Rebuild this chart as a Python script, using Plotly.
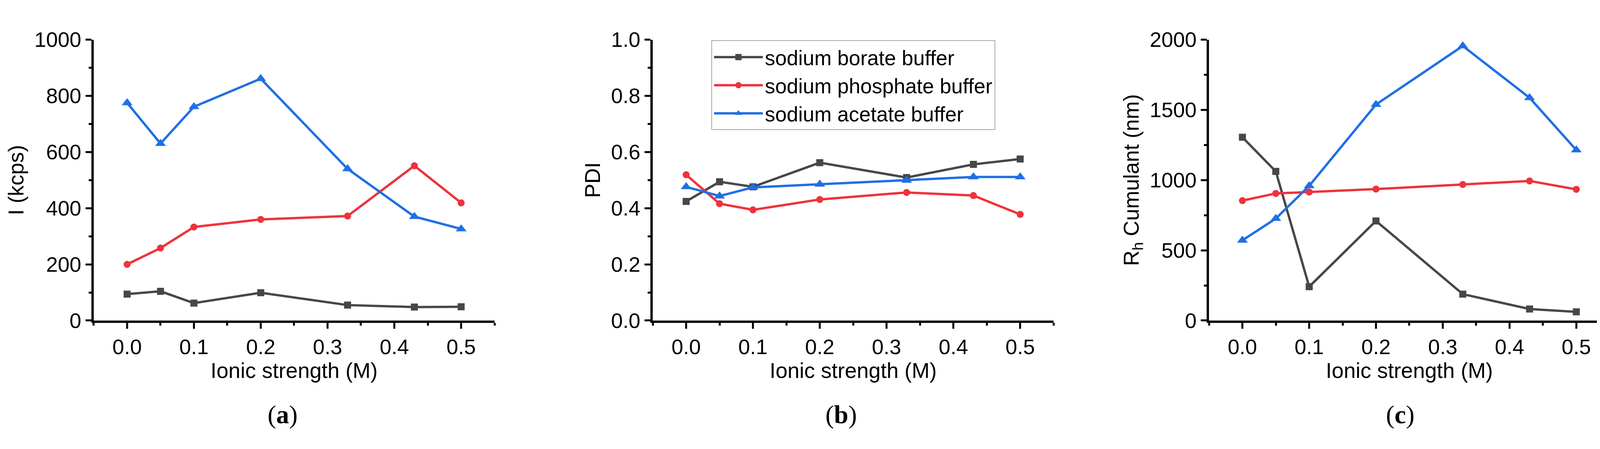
import plotly.graph_objects as go

"""
Ionic strength series for three buffers: count rate, PDI and Rh (cumulant).
"""

# Shared x values (M)
ionic_strength = [0.0, 0.05, 0.1, 0.2, 0.33, 0.43, 0.5]

buffer_names = [
    "sodium borate buffer",
    "sodium phosphate buffer",
    "sodium acetate buffer",
]

# (a) I (kcps)
intensity_borate = [94, 104, 62, 99, 55, 48, 49]
intensity_phosphate = [200, 258, 333, 360, 372, 551, 419]
intensity_acetate = [775, 630, 761, 861, 540, 370, 326]

# (b) PDI
pdi_borate = [0.424, 0.494, 0.476, 0.562, 0.509, 0.556, 0.575]
pdi_phosphate = [0.519, 0.416, 0.394, 0.431, 0.456, 0.445, 0.378]
pdi_acetate = [0.476, 0.443, 0.474, 0.485, 0.499, 0.511, 0.511]

# (c) Rh cumulant (nm)
rh_borate = [1305, 1062, 241, 709, 188, 82, 62]
rh_phosphate = [854, 905, 915, 936, 969, 994, 934]
rh_acetate = [571, 726, 959, 1538, 1955, 1586, 1214]

# Tick labels
x_tick_vals = [0.0, 0.1, 0.2, 0.3, 0.4, 0.5]
x_tick_text = ["0.0", "0.1", "0.2", "0.3", "0.4", "0.5"]
a_tick_vals = [0, 200, 400, 600, 800, 1000]
a_tick_text = ["0", "200", "400", "600", "800", "1000"]
b_tick_vals = [0.0, 0.2, 0.4, 0.6, 0.8, 1.0]
b_tick_text = ["0.0", "0.2", "0.4", "0.6", "0.8", "1.0"]
c_tick_vals = [0, 500, 1000, 1500, 2000]
c_tick_text = ["0", "500", "1000", "1500", "2000"]

panel_labels = ["a", "b", "c"]

# Styles
colors = ["#474747", "#ee333b", "#1f6fe4"]
symbols = ["square", "circle", "triangle-up"]
marker_sizes = [18, 18, 24]
FONT = "Liberation Sans, Arial, sans-serif"
SERIF = "Liberation Serif, Times New Roman, serif"

fig = go.Figure()

panels = [
    ("x", "y", [intensity_borate, intensity_phosphate, intensity_acetate]),
    ("x2", "y2", [pdi_borate, pdi_phosphate, pdi_acetate]),
    ("x3", "y3", [rh_borate, rh_phosphate, rh_acetate]),
]

for p_idx, (xa, ya, series) in enumerate(panels):
    for s_idx, values in enumerate(series):
        fig.add_trace(
            go.Scatter(
                x=ionic_strength,
                y=values,
                xaxis=xa,
                yaxis=ya,
                mode="lines+markers",
                name=buffer_names[s_idx],
                legendgroup=buffer_names[s_idx],
                showlegend=(p_idx == 1),
                line=dict(color=colors[s_idx], width=6),
                marker=dict(
                    symbol=symbols[s_idx],
                    size=marker_sizes[s_idx],
                    color=colors[s_idx],
                ),
                cliponaxis=False,
            )
        )

axis_common = dict(
    showline=True,
    linecolor="black",
    linewidth=6,
    ticks="outside",
    ticklen=15,
    tickwidth=5,
    tickcolor="black",
    showgrid=False,
    zeroline=False,
    tickfont=dict(family=FONT, size=54, color="black"),
    title_font=dict(family=FONT, size=55, color="black"),
)

x_domains = [[0.0560, 0.3038], [0.4016, 0.6494], [0.7455, 0.9932]]
y_domain = [0.2817, 0.9417]

y_specs = [
    (a_tick_vals, a_tick_text, [0, 1000], 100, "I (kcps)"),
    (b_tick_vals, b_tick_text, [0, 1.0], 0.1, "PDI"),
    (c_tick_vals, c_tick_text, [0, 2000], 250, "R<sub>h</sub> Cumulant (nm)"),
]

layout_axes = {}
for i in range(3):
    suffix = "" if i == 0 else str(i + 1)
    tv, tt, rng, minor_step, title = y_specs[i]
    layout_axes["xaxis" + suffix] = dict(
        axis_common,
        domain=x_domains[i],
        anchor="y" + suffix,
        range=[-0.05, 0.55],
        tickmode="array",
        tickvals=x_tick_vals,
        ticktext=x_tick_text,
        minor=dict(ticks="outside", ticklen=7, tickwidth=5, tickcolor="black",
                   tick0=0, dtick=0.05),
        title=dict(text="Ionic strength (M)", standoff=12),
    )
    layout_axes["yaxis" + suffix] = dict(
        axis_common,
        domain=y_domain,
        anchor="x" + suffix,
        range=rng,
        tickmode="array",
        tickvals=tv,
        ticktext=tt,
        minor=dict(ticks="outside", ticklen=7, tickwidth=5, tickcolor="black",
                   tick0=0, dtick=minor_step),
        title=dict(text=title, standoff=12),
    )

fig.update_layout(
    width=4141,
    height=1150,
    margin=dict(l=0, r=0, t=0, b=0),
    paper_bgcolor="white",
    plot_bgcolor="white",
    font=dict(family=FONT, color="black"),
    legend=dict(
        x=0.4378,
        y=0.94,
        xanchor="left",
        yanchor="top",
        bordercolor="#a8a8a8",
        borderwidth=2,
        bgcolor="white",
        font=dict(family=FONT, size=53, color="black"),
        itemwidth=125,
        tracegroupgap=0,
    ),
    **layout_axes,
)

# Panel labels (a), (b), (c)
label_x = [0.1727, 0.5182, 0.8636]
for lx, lab in zip(label_x, panel_labels):
    fig.add_annotation(
        xref="paper",
        yref="paper",
        x=lx,
        y=0.061,
        text=f"(<b>{lab}</b>)",
        showarrow=False,
        xanchor="center",
        yanchor="middle",
        font=dict(family=SERIF, size=66, color="black"),
    )

fig.write_html("out.html")
